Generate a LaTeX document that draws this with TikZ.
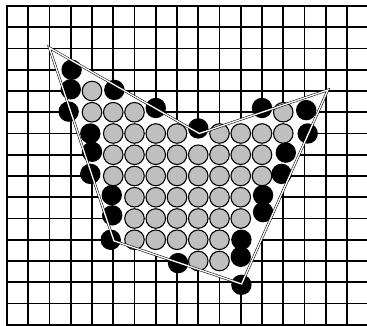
\documentclass[tikz,border=0pt]{standalone}
\usepackage{tikz}
\usepackage{xcolor}
\definecolor{ballgray}{gray}{0.75}

\begin{document}
\begin{tikzpicture}[x=21.25pt,y=-21.25pt,
    gridline/.style={line width=1.8pt,line cap=rect},
    inball/.style={fill=ballgray,draw=black,line width=1.1pt},
    edgeball/.style={fill=black},
    rim/.style={draw=black,line width=0.55pt,double=white,double distance=1.3pt,line join=miter}]

  \useasboundingbox (-0.3294,-0.2824) rectangle (16.941,15.012);

  % lattice
  \begin{scope}
    \clip (-0.3294,-0.2824) rectangle (16.941,15.012);
    \foreach \i in {0,...,16}{
      \draw[gridline] (\i,0) -- (\i,15.3);
    }
    \foreach \j in {0,...,15}{
      \draw[gridline] (0,\j) -- (17.2,\j);
    }
  \end{scope}

  % region
  \coordinate (tl) at (1.99,1.96);
  \coordinate (nt) at (9.05,6.0);
  \coordinate (tr) at (15.1,3.95);
  \coordinate (br) at (11.04,13.08);
  \coordinate (bl) at (5.03,11.05);

  \fill[white] (tl) -- (nt) -- (tr) -- (br) -- (bl) -- cycle;

  % inner particles: row/first/last
  \foreach \r/\a/\b in {4/4/4,5/4/6,5/13/13,6/5/8,6/10/13,7/5/12,8/5/12,
      9/6/11,10/6/11,11/6/10,12/9/10}{
    \foreach \c in {\a,...,\b}{
      \draw[inball] (\c,\r) circle (0.46);
    }
  }

  % boundary particles
  \foreach \px/\py in {3.04/3.0,3.0/3.92,2.9/4.97,5.05/3.95,7.0/4.8,9.0/5.76,
      12.0/4.8,14.08/4.9,14.15/6.0,13.12/6.9,12.92/7.9,12.05/8.9,12.05/9.7,
      11.03/11.0,11.0/11.8,11.03/13.12,8.05/12.1,4.88/11.0,4.95/9.85,
      4.93/8.9,3.92/7.9,4.0/6.86,3.92/6.0}{
    \fill[edgeball] (\px,\py) circle (0.48);
  }

  \draw[rim] (tl) -- (nt) -- (tr) -- (br) -- (bl) -- cycle;

\end{tikzpicture}
\end{document}
